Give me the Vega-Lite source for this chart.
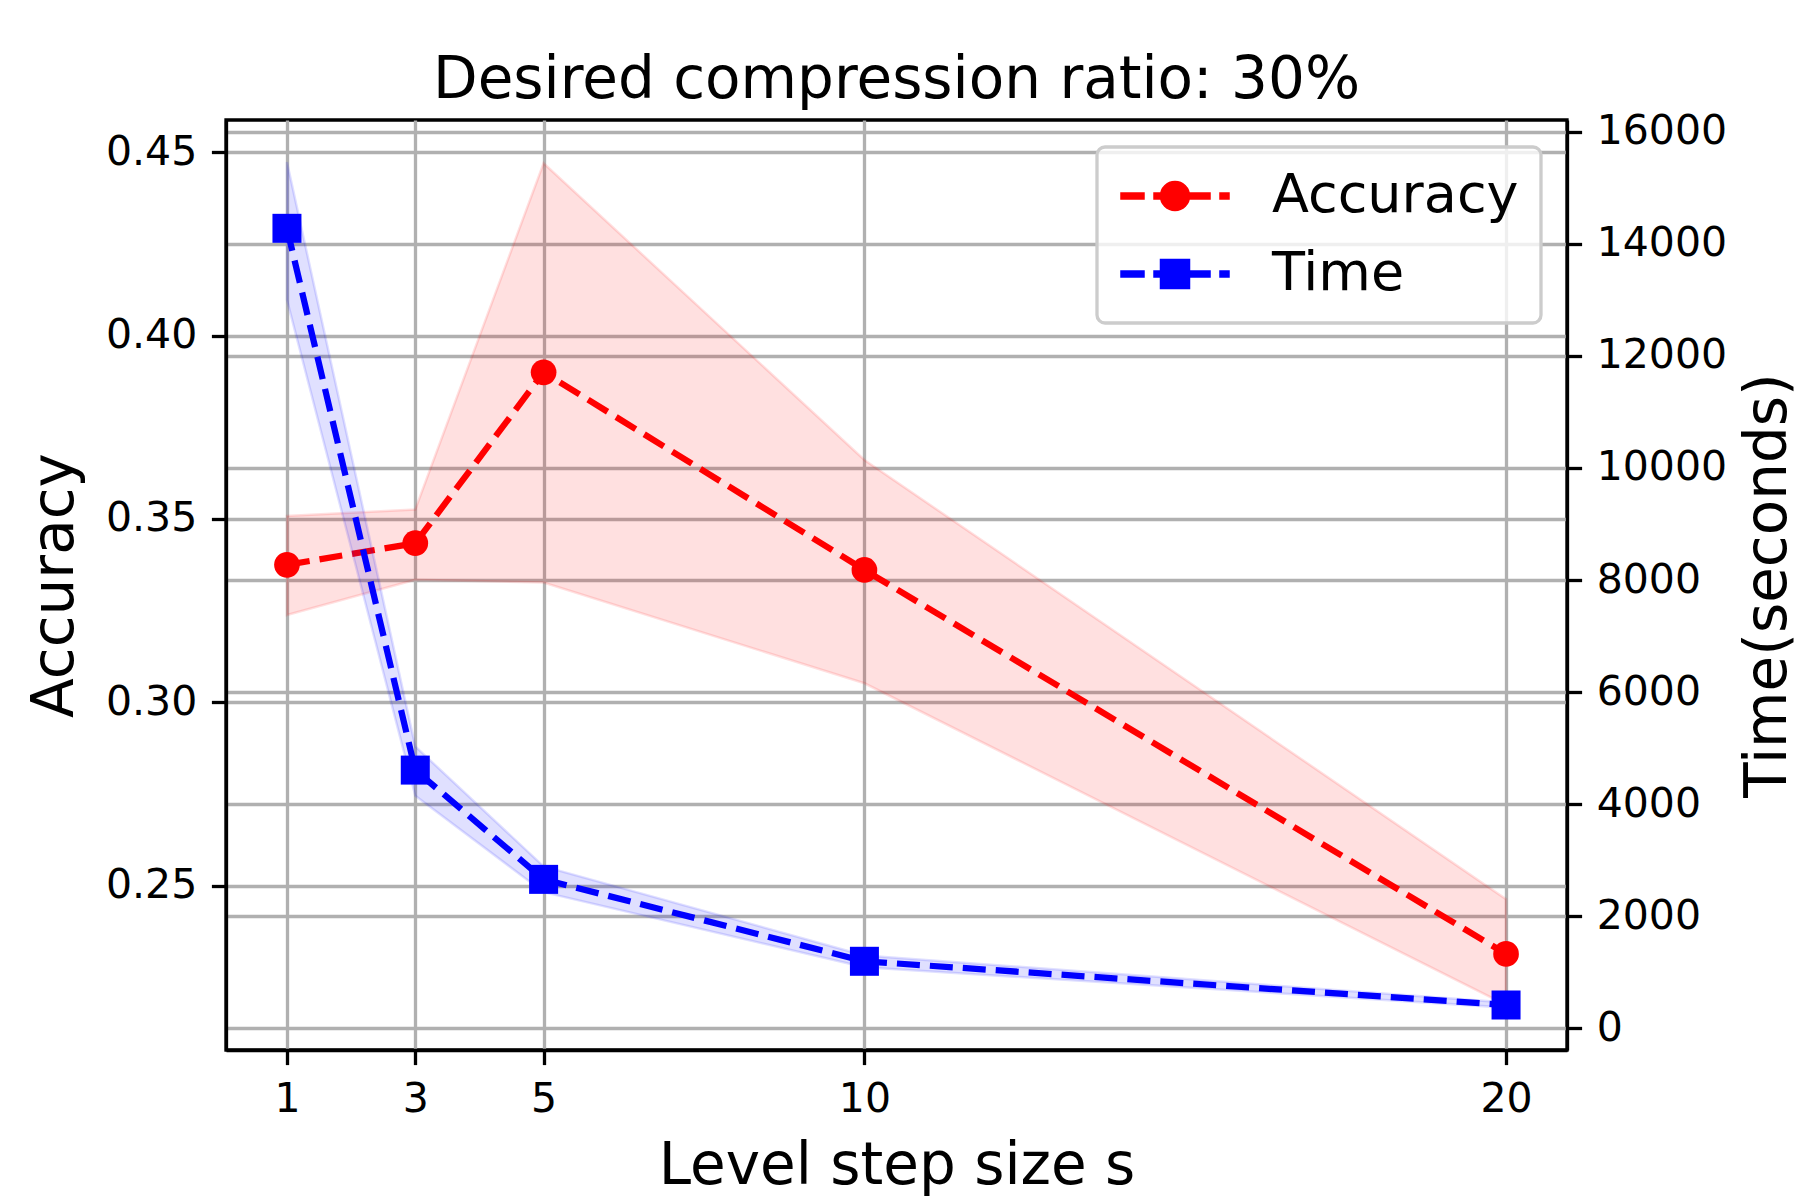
{
  "$schema": "https://vega.github.io/schema/vega-lite/v6.json",
  "autosize": {"type": "none"},
  "padding": {"left": 226, "top": 120, "right": 233, "bottom": 150},
  "width": 1341,
  "height": 930,
  "background": "white",
  "title": {
    "text": "Desired compression ratio: 30%",
    "font": "DejaVu Sans",
    "fontSize": 58,
    "fontWeight": "normal",
    "color": "black",
    "anchor": "middle",
    "frame": "group",
    "baseline": "alphabetic",
    "offset": 23,
    "dy": 68
  },
  "data": {
    "values": [
      {"s": 1, "acc": 0.3375, "acc_lo": 0.3238, "acc_hi": 0.3508, "time": 14276, "time_lo": 13000, "time_hi": 15460},
      {"s": 3, "acc": 0.3434, "acc_lo": 0.3334, "acc_hi": 0.3526, "time": 4608, "time_lo": 4150, "time_hi": 5030},
      {"s": 5, "acc": 0.39, "acc_lo": 0.3327, "acc_hi": 0.447, "time": 2658, "time_lo": 2430, "time_hi": 2890},
      {"s": 10, "acc": 0.3361, "acc_lo": 0.3052, "acc_hi": 0.3661, "time": 1196, "time_lo": 1090, "time_hi": 1300},
      {"s": 20, "acc": 0.2314, "acc_lo": 0.2175, "acc_hi": 0.2463, "time": 416, "time_lo": 370, "time_hi": 460}
    ]
  },
  "layer": [
    {
      "layer": [
        {
          "mark": {"type": "area", "fill": "red", "fillOpacity": 0.12, "stroke": "red", "strokeOpacity": 0.12, "strokeWidth": 2.5},
          "encoding": {
            "x": {
              "field": "s", "type": "quantitative",
              "scale": {"domain": [0.05, 20.95], "nice": false, "zero": false},
              "axis": {"title": "Level step size s", "values": [1, 3, 5, 10, 20], "format": "d", "grid": true, "labelFlush": false, "titlePadding": 18}
            },
            "y": {
              "field": "acc_lo", "type": "quantitative",
              "scale": {"domain": [0.2052, 0.4588], "nice": false, "zero": false},
              "axis": {"title": "Accuracy", "values": [0.25, 0.3, 0.35, 0.4, 0.45], "format": ".2f", "grid": true, "titlePadding": 21}
            },
            "y2": {"field": "acc_hi"}
          }
        },
        {
          "mark": {"type": "line", "strokeDash": [23, 10], "strokeWidth": 6.25},
          "encoding": {
            "x": {"field": "s", "type": "quantitative"},
            "y": {"field": "acc", "type": "quantitative"},
            "color": {
              "datum": "Accuracy", "type": "nominal",
              "scale": {"domain": ["Accuracy", "Time"], "range": ["red", "blue"]},
              "legend": {
                "orient": "none", "legendX": 871, "legendY": 27, "title": null,
                "labelFont": "DejaVu Sans", "labelFontSize": 54, "labelColor": "black", "labelLimit": 600,
                "symbolSize": 841, "symbolOffset": 29, "labelOffset": 70,
                "rowPadding": 24, "padding": 22,
                "fillColor": "rgba(255,255,255,0.8)", "strokeColor": "#cccccc", "cornerRadius": 8,
                "encode": {
                  "legend": {"update": {"strokeWidth": {"value": 3.3}}},
                  "symbols": {
                    "update": {
                      "shape": {"signal": "datum.value === 'Accuracy' ? 'M-3.724,-0.214H-2.138V0.214H-3.724Z M-1.448,-0.214H0.138V0.214H-1.448Z M0.828,-0.214H2.414V0.214H0.828Z M3.103,-0.214H3.724V0.214H3.103Z M-1,0A1,1 0 1,1 1,0A1,1 0 1,1 -1,0Z' : 'M-3.724,-0.214H-2.138V0.214H-3.724Z M-1.448,-0.214H0.138V0.214H-1.448Z M0.828,-0.214H2.414V0.214H0.828Z M3.103,-0.214H3.724V0.214H3.103Z M-1,-1H1V1H-1Z'"},
                      "fill": {"signal": "datum.value === 'Accuracy' ? 'red' : 'blue'"},
                      "stroke": {"value": "transparent"},
                      "opacity": {"value": 1},
                      "fillOpacity": {"value": 1},
                      "size": {"value": 841}
                    }
                  }
                }
              }
            }
          }
        },
        {
          "mark": {"type": "point", "shape": "circle", "filled": true, "size": 660, "opacity": 1},
          "encoding": {
            "x": {"field": "s", "type": "quantitative"},
            "y": {"field": "acc", "type": "quantitative"},
            "color": {"datum": "Accuracy", "type": "nominal"}
          }
        }
      ]
    },
    {
      "layer": [
        {
          "mark": {"type": "area", "fill": "blue", "fillOpacity": 0.12, "stroke": "blue", "strokeOpacity": 0.12, "strokeWidth": 2.5},
          "encoding": {
            "x": {"field": "s", "type": "quantitative"},
            "y": {
              "field": "time_lo", "type": "quantitative",
              "scale": {"domain": [-387, 16209], "nice": false, "zero": false},
              "axis": {"orient": "right", "title": "Time(seconds)", "values": [0, 2000, 4000, 6000, 8000, 10000, 12000, 14000, 16000], "format": "d", "grid": true, "titleAngle": -90, "titleBaseline": "top", "titlePadding": 13}
            },
            "y2": {"field": "time_hi"}
          }
        },
        {
          "mark": {"type": "line", "strokeDash": [23, 10], "strokeWidth": 6.25},
          "encoding": {
            "x": {"field": "s", "type": "quantitative"},
            "y": {"field": "time", "type": "quantitative"},
            "color": {"datum": "Time", "type": "nominal"}
          }
        },
        {
          "mark": {"type": "point", "shape": "square", "filled": true, "size": 841, "opacity": 1},
          "encoding": {
            "x": {"field": "s", "type": "quantitative"},
            "y": {"field": "time", "type": "quantitative"},
            "color": {"datum": "Time", "type": "nominal"}
          }
        }
      ]
    }
  ],
  "resolve": {"scale": {"y": "independent"}, "axis": {"y": "independent"}},
  "config": {
    "font": "DejaVu Sans",
    "view": {"stroke": "black", "strokeWidth": 3.3},
    "axis": {
      "labelFont": "DejaVu Sans", "labelFontSize": 41, "labelColor": "black",
      "titleFont": "DejaVu Sans", "titleFontSize": 58, "titleFontWeight": "normal", "titleColor": "black",
      "domainColor": "black", "domainWidth": 3.3,
      "tickColor": "black", "tickWidth": 3.3, "tickSize": 14.6, "labelPadding": 14.6,
      "gridColor": "#b0b0b0", "gridWidth": 3.3, "gridOpacity": 1
    }
  }
}
